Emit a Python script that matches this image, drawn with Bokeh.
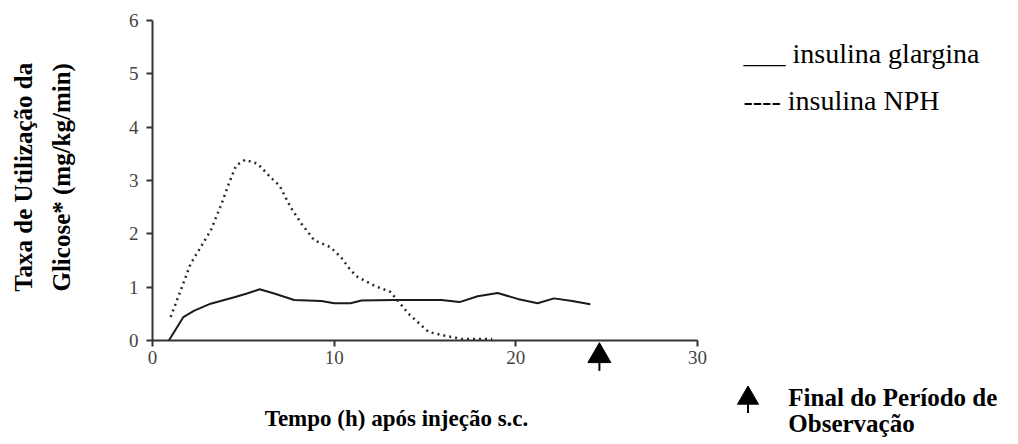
from bokeh.plotting import figure
from bokeh.models import Range1d, FixedTicker
from bokeh.core.properties import value
from bokeh.embed import file_html
from bokeh.resources import INLINE
import math

# Data
glargina_x = [0.9, 1.7, 2.3, 3.2, 4.5, 5.2, 5.9, 6.7, 7.8, 9.3, 10.0, 10.9, 11.5, 13.3, 15.9, 16.9, 17.9, 19.0, 20.1, 21.2, 22.1, 23.1, 24.1]
glargina_y = [0.0, 0.44, 0.56, 0.69, 0.81, 0.88, 0.96, 0.88, 0.76, 0.74, 0.70, 0.70, 0.75, 0.76, 0.76, 0.72, 0.83, 0.89, 0.78, 0.70, 0.79, 0.74, 0.68]
nph_x = [1.0, 1.55, 2.1, 2.65, 3.2, 3.8, 4.2, 4.6, 5.1, 5.8, 6.5, 7.0, 7.6, 8.2, 8.9, 9.8, 10.4, 10.9, 11.3, 12.2, 13.1, 14.1, 15.2, 16.1, 17.0, 18.7]
nph_y = [0.44, 0.94, 1.44, 1.75, 2.06, 2.56, 2.94, 3.28, 3.39, 3.31, 3.06, 2.90, 2.50, 2.19, 1.88, 1.75, 1.55, 1.32, 1.19, 1.03, 0.91, 0.50, 0.16, 0.09, 0.03, 0.03]
x_ticks = [0, 10, 20, 30]
y_ticks = [0, 1, 2, 3, 4, 5, 6]
end_of_observation = 24.6

SERIF = "Liberation Serif"
W, H = 1018, 444

# frame covers the whole canvas; axes are pinned at 0 with fixed_location
p = figure(width=W, height=H, output_backend="svg", toolbar_location=None,
           x_range=Range1d(-152 / 18.1667, (W - 152) / 18.1667),
           y_range=Range1d((340 - H) / 53.333, 340 / 53.333),
           min_border=0, min_border_left=0, min_border_right=0,
           min_border_top=0, min_border_bottom=0)
p.outline_line_color = None
p.grid.visible = False
p.background_fill_color = "white"
p.border_fill_color = "white"

p.xaxis.fixed_location = 0
p.yaxis.fixed_location = 0
p.xaxis.bounds = (0, 30)
p.yaxis.bounds = (0, 6)
for ax in (p.xaxis[0], p.yaxis[0]):
    ax.axis_line_width = 2
    ax.axis_line_color = "#333333"
    ax.major_tick_line_color = "#333333"
    ax.major_tick_line_width = 2
    ax.major_tick_out = 6
    ax.major_tick_in = 0
    ax.minor_tick_line_color = None
    ax.major_label_text_font = SERIF
    ax.major_label_text_font_size = "19px"
    ax.major_label_text_color = "#444444"
p.xaxis.major_label_standoff = 4
p.yaxis.major_label_standoff = 8
p.xaxis.ticker = FixedTicker(ticks=x_ticks)
p.yaxis.ticker = FixedTicker(ticks=y_ticks)

p.line(glargina_x, glargina_y, line_color="#1a1a1a", line_width=2)
p.line(nph_x, nph_y, line_color="#2a2a2a", line_width=2.5, line_dash="2 4")

# end-of-observation arrow under the axis
p.segment(x0=[end_of_observation], y0=[-0.40], x1=[end_of_observation], y1=[-0.57],
          line_color="black", line_width=2)
p.scatter(x=[end_of_observation], y=[-0.29], marker="triangle", size=23,
          fill_color="black", line_color="black")
# legend arrow
p.segment(x0=[32.78], y0=[-1.17], x1=[32.78], y1=[-1.36], line_color="black", line_width=2)
p.scatter(x=[32.78], y=[-1.08], marker="triangle", size=21, fill_color="black", line_color="black")

def lab(x, y, t, size, bold=False, angle=0.0, align="left", baseline="alphabetic"):
    p.text(x=[x], y=[y], text=[t], text_font=value(SERIF), text_font_size=size,
           text_font_style="bold" if bold else "normal", text_color="black",
           angle=angle, text_align=align, text_baseline=baseline)

lab(32.53, 5.38, "___ insulina glargina", "28px")
lab(32.53, 4.50, "---- insulina NPH", "28px")
lab(35.0, -1.07, "Final do Período de", "25px", bold=True)
lab(35.0, -1.56, "Observação", "25px", bold=True)
lab(13.43, -1.47, "Tempo (h) após injeção s.c.", "23px", bold=True, align="center")
lab(-7.1, 3.06, "Taxa de Utilização da", "25px", bold=True, angle=math.pi / 2, align="center", baseline="middle")
lab(-5.0, 3.06, "Glicose* (mg/kg/min)", "25px", bold=True, angle=math.pi / 2, align="center", baseline="middle")

open("out.html", "w").write(file_html(p, INLINE))
